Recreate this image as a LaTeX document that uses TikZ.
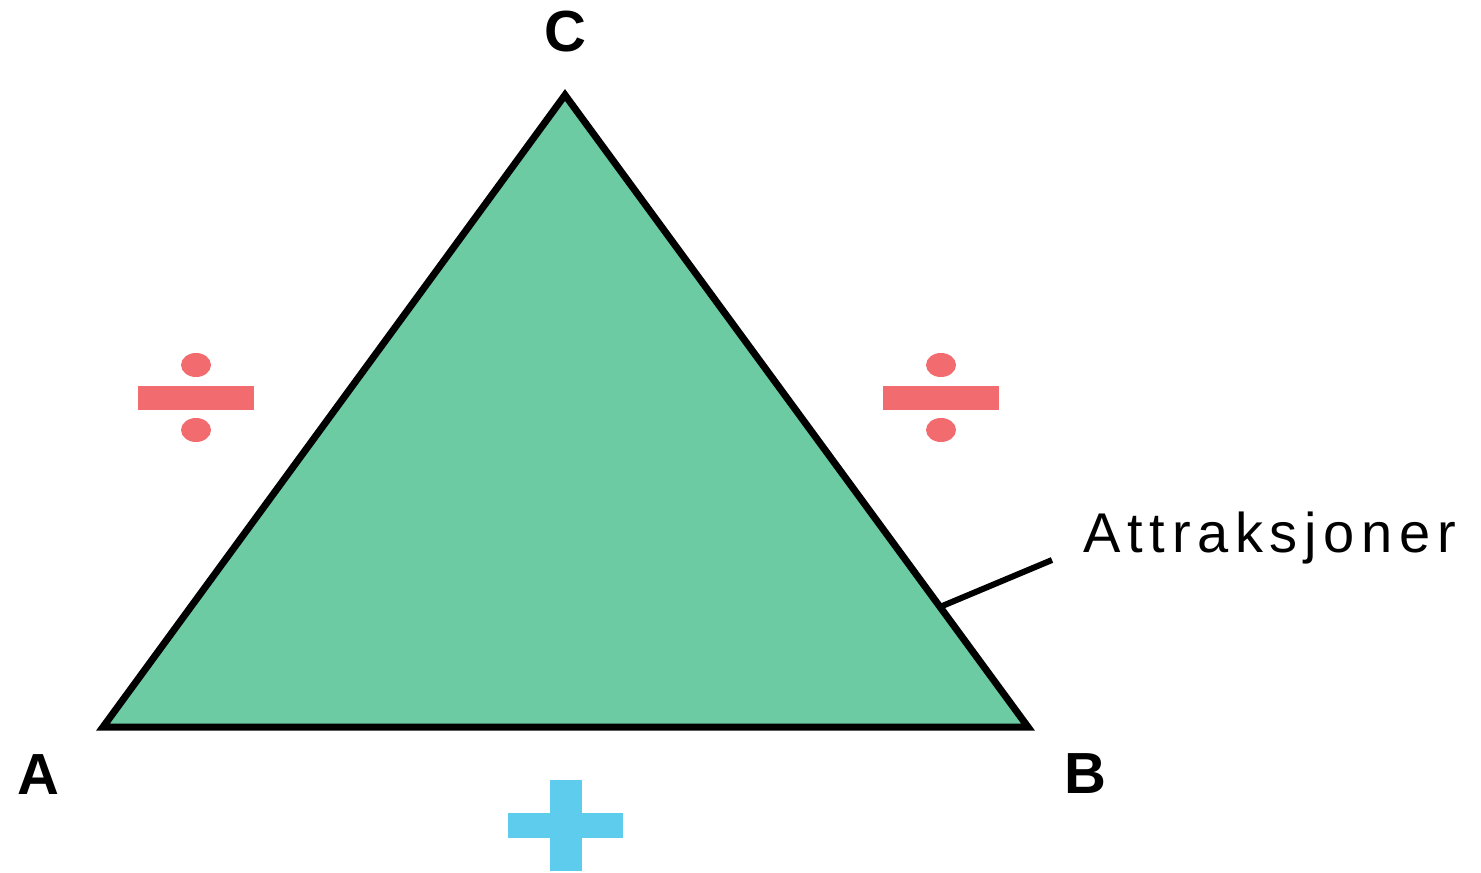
\documentclass[tikz,border=0pt]{standalone}
\usepackage{fontspec}
\setmainfont{Liberation Sans}
\usetikzlibrary{calc}
\definecolor{trifill}{HTML}{6CCBA3}
\definecolor{divred}{HTML}{F26B6E}
\definecolor{plusblue}{HTML}{5ECDED}
\begin{document}
\begin{tikzpicture}[x=0.5pt,y=-0.5pt,
  vlabel/.style={font=\fontsize{29}{30}\selectfont\bfseries, inner sep=0pt, anchor=center},
  edge/.style={line width=3.5pt, line join=miter},
  divpart/.style={fill=divred, draw=none},
  pluspart/.style={fill=plusblue, draw=none}]
\useasboundingbox (0,0) rectangle (1481,872);
\coordinate (A) at (103,727);
\coordinate (B) at (1028,727);
\coordinate (C) at (565,95);
\draw[edge, fill=trifill] (A) -- (B) -- (C) -- cycle;
\node[vlabel] (lA) at (38,775) {A};
\node[vlabel] (lB) at (1085,774) {B};
\node[vlabel] (lC) at (565,32) {C};
% divide signs
\foreach \cx in {196,941} {
  \fill[divpart] (\cx-58,386) rectangle (\cx+58,410);
  \fill[divpart] (\cx,365) ellipse [x radius=15, y radius=12];
  \fill[divpart] (\cx,430) ellipse [x radius=15, y radius=12];
}
% plus sign
\fill[pluspart] (550,780) rectangle (582,871);
\fill[pluspart] (508,813) rectangle (623,838);
% label
\node[font=\fontsize{28}{30}\selectfont\addfontfeatures{LetterSpace=12}, anchor=base west, inner sep=0pt] (att) at (1083,552) {Attraksjoner};
\coordinate (edgept) at ($(B)!0.19!(C)$);
\coordinate (lead) at (1052,560);
\draw[line width=3pt] (lead) -- (edgept);
\end{tikzpicture}
\end{document}
